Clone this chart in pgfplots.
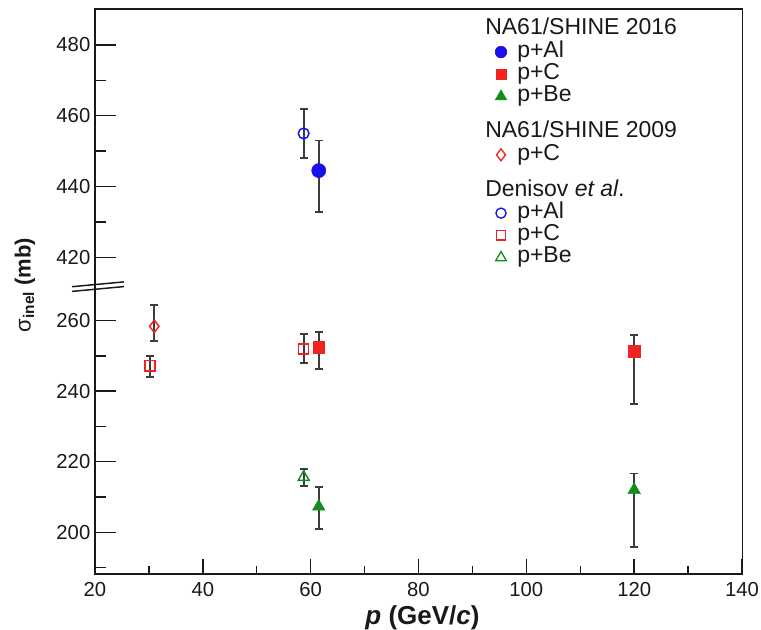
\documentclass[border=0pt]{standalone}
\usepackage{fontspec}
\setmainfont{Liberation Sans}
\usepackage{pgfplots}
\pgfplotsset{compat=1.18}
\definecolor{cblue}{RGB}{25,15,235}
\definecolor{cred}{RGB}{240,35,35}
\definecolor{cgreen}{RGB}{20,140,30}
\definecolor{ebar}{RGB}{60,60,60}
\definecolor{axc}{RGB}{25,25,25}
\pgfplotsset{
  common/.style={
    scale only axis, width=485.25pt, xmin=20, xmax=140, clip=false,
    anchor=south west,
    axis line style={draw=none},
    tick style={axc, line width=1.1pt},
    ticklabel style={font=\fontsize{15.2}{16}\selectfont, text=axc},
    /pgf/number format/assume math mode=true,
    tick pos=left, tick align=inside,
    major tick length=15.75pt, minor tick length=8.25pt,
  },
  eb/.style={
    error bars/y dir=both, error bars/y explicit,
    error bars/error bar style={ebar, line width=1.3pt},
    error bars/error mark options={ebar, rotate=90, mark size=3pt, line width=1.3pt},
  },
}
\begin{document}
\begin{tikzpicture}[x=0.75pt,y=0.75pt]
\path[use as bounding box] (0,0) rectangle (761,630);

% lower part of the broken axis
\begin{axis}[common, at={(71.25pt,42pt)}, height=215.25pt,
  ymin=188.18, ymax=269.55,
  ytick={200,220,240,260}, minor ytick={190,210,230,250}, xtick=\empty]
  % NA61/SHINE 2016 p+C
  \addplot[eb, only marks, mark=square*, mark size=4.4pt, color=cred]
    table[x=x, y=y, y error plus=ep, y error minus=em] {
    x y ep em
    61.5 252.5 4.2 6.3
    120 251.4 4.5 15.1
  };
  % NA61/SHINE 2016 p+Be
  \addplot[eb, only marks, mark=triangle*, mark size=5.4pt, color=cgreen]
    table[x=x, y=y, y error plus=ep, y error minus=em] {
    x y ep em
    61.5 207.3 5.6 6.3
    120 212.0 4.7 16.1
  };
  % NA61/SHINE 2009 p+C
  \addplot[eb, only marks, mark=diamond, mark size=4.7pt, color=cred, mark options={line width=1.1pt, fill=white}]
    table[x=x, y=y, y error plus=ep, y error minus=em] {
    x y ep em
    31.0 258.4 6.0 4.1
  };
  % Denisov p+C
  \addplot[eb, only marks, mark=square, mark size=3.8pt, color=cred, mark options={line width=1.1pt, fill=white}]
    table[x=x, y=y, y error plus=ep, y error minus=em] {
    x y ep em
    30.2 247.2 2.8 3.1
    58.7 252.0 4.2 3.9
  };
  % Denisov p+Be
  \addplot[eb, only marks, mark=triangle, mark size=4.8pt, color=cgreen, mark options={line width=1.1pt, fill=white}]
    table[x=x, y=y, y error plus=ep, y error minus=em] {
    x y ep em
    58.7 215.6 2.4 2.4
  };
\end{axis}

% x ticks and labels
\begin{axis}[common, at={(71.25pt,42pt)}, height=215.25pt,
  ymin=188.18, ymax=269.55, ytick=\empty,
  xtick={20,40,60,80,100,120,140}, minor xtick={30,50,70,90,110,130},
  major tick length=11.25pt, minor tick length=6pt,
  xticklabel style={yshift=-3pt}]
\end{axis}

% upper part of the broken axis
\begin{axis}[common, at={(71.25pt,257.25pt)}, height=208.3pt,
  ymin=411.6, ymax=490.1,
  ytick={420,440,460,480}, minor ytick={430,450,470}, xtick=\empty,
  legend image code/.code={\draw[mark repeat=2,mark phase=2,#1] plot coordinates {(0cm,0cm) (0.2cm,0cm) (0.4cm,0cm)};},
  legend cell align=left,
  legend style={draw=none, fill=none, inner sep=0pt, outer sep=0pt,
    at={(0.6158,0.9661)}, anchor=north west,
    font=\fontsize{17.25}{20}\selectfont, text=black!90,
    nodes={inner ysep=0pt, inner xsep=0pt, text height=12.2pt, text depth=4.5pt},
    row sep=0pt, column sep=7.8pt}]
  % Denisov p+Al
  \addplot[eb, forget plot, only marks, mark=o, mark size=4.0pt, color=cblue, mark options={line width=1.1pt, fill=white}]
    table[x=x, y=y, y error plus=ep, y error minus=em] {
    x y ep em
    58.7 455.0 7.0 7.0
  };
  % NA61/SHINE 2016 p+Al
  \addplot[eb, forget plot, only marks, mark=*, mark size=5.3pt, color=cblue]
    table[x=x, y=y, y error plus=ep, y error minus=em] {
    x y ep em
    61.5 444.5 8.5 11.7
  };
  \addlegendimage{empty legend}
  \addlegendentry{\hspace*{-24pt}NA61/SHINE 2016}
  \addlegendimage{only marks, mark=*, mark size=4.4pt, color=cblue}
  \addlegendentry{p+Al}
  \addlegendimage{only marks, mark=square*, mark size=3.6pt, color=cred}
  \addlegendentry{p+C}
  \addlegendimage{only marks, mark=triangle*, mark size=5pt, color=cgreen}
  \addlegendentry{p+Be}
  \addlegendimage{empty legend}
  \addlegendentry[text height=22.5pt]{\hspace*{-24pt}NA61/SHINE 2009}
  \addlegendimage{only marks, mark=diamond, mark size=4.5pt, color=cred, mark options={line width=1pt}}
  \addlegendentry{p+C}
  \addlegendimage{empty legend}
  \addlegendentry[text height=22.5pt]{\hspace*{-24pt}Denisov \textit{et al}.}
  \addlegendimage{only marks, mark=o, mark size=3.8pt, color=cblue, mark options={line width=1pt}}
  \addlegendentry{p+Al}
  \addlegendimage{only marks, mark=square, mark size=3.5pt, color=cred, mark options={line width=1pt}}
  \addlegendentry{p+C}
  \addlegendimage{only marks, mark=triangle, mark size=4.6pt, color=cgreen, mark options={line width=1pt}}
  \addlegendentry{p+Be}
\end{axis}

% frame
\draw[axc, line width=1.4pt] (742.5,620.7) -- (95,620.7) -- (95,56) -- (742.5,56);
\draw[axc, line width=1.0pt] (742.5,56) -- (742.5,620.7);
% axis break marks
\draw[axc, line width=1.1pt] (72,343.3) -- (124,348.1);
\draw[axc, line width=1.1pt] (72,338.6) -- (124,343.4);
% axis titles
\node[rotate=90, font=\fontsize{16.5}{18}\selectfont\bfseries, text=axc] at (25,345) {{\mdseries σ}\textsubscript{inel} (mb)};
\node[anchor=base, font=\fontsize{19.5}{22}\selectfont\bfseries, text=axc] at (422.5,5) {\textit{p} (GeV/\textit{c})};
\end{tikzpicture}
\end{document}
